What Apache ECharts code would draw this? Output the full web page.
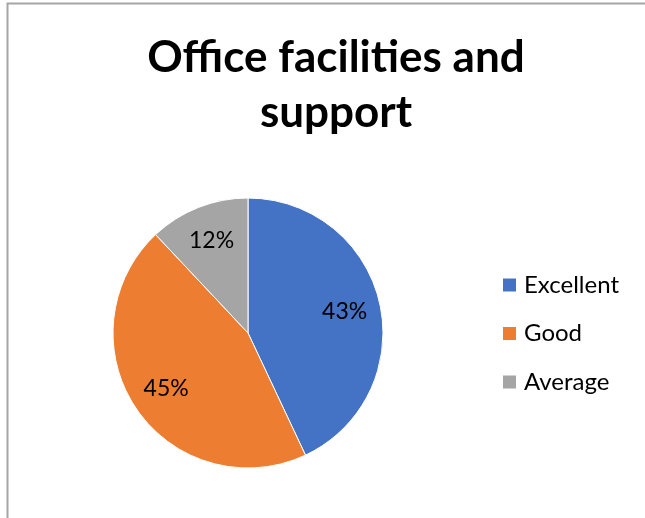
<!DOCTYPE html>
<html>
<head>
<meta charset="utf-8">
<script src="https://cdn.jsdelivr.net/npm/echarts@6/dist/echarts.min.js"></script>
<style>
html,body{margin:0;padding:0;background:#fff;}
#main{width:645px;height:518px;}
</style>
</head>
<body>
<div id="main"></div>
<script>
var titleText = 'Office facilities and\nsupport';
var categories = ['Excellent', 'Good', 'Average'];
var values = [43, 45, 12];
var colors = ['#4472C4', '#ED7D31', '#A5A5A5'];

var chart = echarts.init(document.getElementById('main'), null, {renderer: 'canvas'});
var pieData = categories.map(function (c, i) {
  return {name: c, value: values[i], itemStyle: {color: colors[i]}};
});
var labelData = categories.map(function (c, i) {
  return {name: c, value: values[i]};
});
chart.setOption({
  animation: false,
  backgroundColor: '#fff',
  graphic: [{
    type: 'rect',
    shape: {x: 7.5, y: 3.5, width: 700, height: 600},
    style: {fill: 'none', stroke: '#A6A6A6', lineWidth: 2},
    silent: true
  }],
  title: {
    text: titleText,
    left: 331,
    textAlign: 'center',
    top: 25,
    textStyle: {
      fontFamily: 'Lato',
      fontWeight: 'bold',
      fontSize: 44,
      lineHeight: 55,
      color: '#000'
    }
  },
  legend: {
    orient: 'vertical',
    left: 501,
    top: 273,
    padding: 0,
    icon: 'rect',
    itemWidth: 15,
    itemHeight: 15,
    itemGap: 24.5,
    data: categories,
    textStyle: {
      fontFamily: 'Lato',
      fontSize: 24,
      color: '#000',
      padding: [0, 0, 0, 2]
    }
  },
  series: [{
    name: 'main',
    type: 'pie',
    center: [248, 333],
    radius: [0, 135],
    startAngle: 90,
    clockwise: true,
    data: pieData,
    label: {show: false},
    labelLine: {show: false},
    itemStyle: {borderColor: '#fff', borderWidth: 1},
    emphasis: {disabled: true}
  }, {
    name: 'labels',
    type: 'pie',
    center: [248, 333],
    radius: [0, 192],
    startAngle: 90,
    clockwise: true,
    silent: true,
    data: labelData,
    itemStyle: {color: 'rgba(0,0,0,0)'},
    label: {
      show: true,
      position: 'inside',
      formatter: '{c}%',
      fontFamily: 'Lato',
      fontSize: 23,
      color: '#000'
    },
    labelLine: {show: false},
    emphasis: {disabled: true}
  }]
});
</script>
</body>
</html>
